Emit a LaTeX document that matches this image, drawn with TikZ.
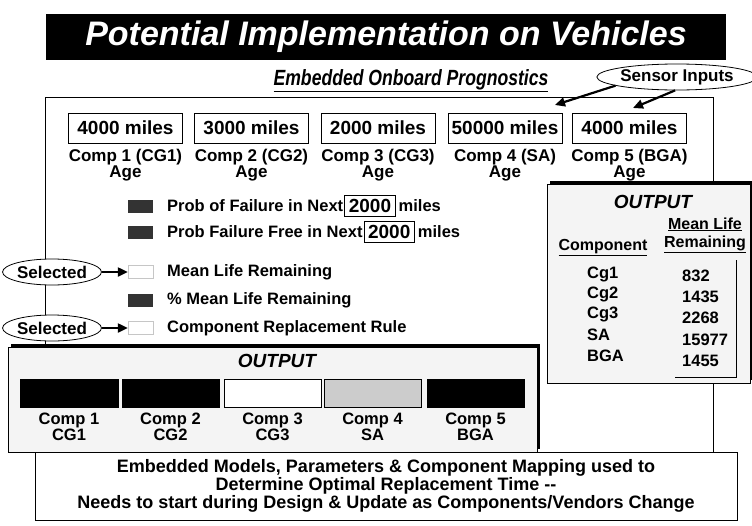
\documentclass[tikz,border=0pt]{standalone}
\usepackage{fontspec}
\setmainfont{Liberation Sans}
\newfontfamily\condfont[FakeStretch=0.8]{Liberation Sans}
\usetikzlibrary{shapes.geometric,arrows.meta,positioning,shadows}

\tikzset{
  agebox/.style={draw,thick,minimum width=114pt,minimum height=30pt,inner sep=0pt,font=\fontsize{19}{20}\selectfont\bfseries},
  agelabel/.style={anchor=north,align=center,inner sep=0pt,font=\fontsize{17}{16}\selectfont\bfseries},
  optlabel/.style={anchor=west,inner sep=0pt,font=\fontsize{16.5}{18}\selectfont\bfseries},
  numbox/.style={draw,thick,inner xsep=4pt,inner ysep=0pt,minimum height=21pt,font=\fontsize{19}{20}\selectfont\bfseries},
  darkicon/.style={fill=black!80,minimum width=25pt,minimum height=13pt,inner sep=0pt},
  lighticon/.style={draw=gray!45,fill=white,minimum width=25pt,minimum height=13pt,inner sep=0pt},
  selbox/.style={ellipse,draw,thick,fill=white,inner sep=0pt,minimum width=95pt,minimum height=26pt,font=\fontsize{17}{17}\selectfont\bfseries},
  outbox/.style={draw,thick,fill=gray!9,drop shadow={shadow xshift=3pt,shadow yshift=3pt,fill=black,opacity=1}},
  outtitle/.style={font=\fontsize{19}{19}\selectfont\bfseries\itshape},
  compbar/.style={draw,thick,minimum height=28pt,inner sep=0pt},
  barlabel/.style={anchor=north,align=center,inner sep=0pt,font=\fontsize{16.5}{16}\selectfont\bfseries},
  cell/.style={anchor=west,inner sep=0pt,font=\fontsize{16.5}{18}\selectfont\bfseries},
  head/.style={inner sep=0pt,font=\fontsize{16}{18}\selectfont\bfseries},
  pointer/.style={-{Triangle[length=10pt,width=9pt]},line width=2.2pt}
}

\begin{document}
\begin{tikzpicture}[x=1pt,y=-1pt]
\useasboundingbox (0,0) rectangle (752,525);

% heading
\node[fill=black,text=white,minimum width=680pt,minimum height=46pt,font=\fontsize{34}{34}\selectfont\bfseries\itshape] (title) at (386,37) {Potential Implementation on Vehicles};
\node[font=\fontsize{22}{22}\selectfont\condfont\bfseries\itshape] (sub) at (411,81) {\underline{Embedded Onboard Prognostics}};
\node[ellipse,draw,thick,fill=white,inner sep=0pt,minimum width=150pt,minimum height=26pt,font=\fontsize{17}{17}\selectfont\bfseries] (sens) at (677,77) {Sensor Inputs};

% output boxes and note
\node[outbox,minimum width=529pt,minimum height=105pt] (outL) at (272.5,399.5) {};
\node[outbox,minimum width=203pt,minimum height=199pt] (outR) at (648.5,283.5) {};
\node[draw,thick,fill=white,minimum width=702pt,minimum height=68pt,align=center,font=\fontsize{18}{15}\selectfont\bfseries] (note) at (386,486) {Embedded Models, Parameters \& Component Mapping used to\\Determine Optimal Replacement Time -{}-\\Needs to start during Design \& Update as Components/Vendors Change};

% frame
\coordinate (ftl) at (45,97);
\coordinate (ftr) at (713,97);
\draw[thick] (ftl |- outL.north) -- (ftl) -- (ftr) -- (ftr |- outR.north);
\draw[thick] (ftr |- outR.south) -- (ftr |- note.north);

% ages
\node[agebox] (a1) at (125.5,128) {4000 miles};
\node[agebox] (a2) at (251.5,128) {3000 miles};
\node[agebox] (a3) at (378,128) {2000 miles};
\node[agebox] (a4) at (505,128) {50000 miles};
\node[agebox] (a5) at (629.5,128) {4000 miles};
\node[agelabel] at ([yshift=-6pt]a1.south) {Comp 1 (CG1)\\Age};
\node[agelabel] at ([yshift=-6pt]a2.south) {Comp 2 (CG2)\\Age};
\node[agelabel] at ([yshift=-6pt]a3.south) {Comp 3 (CG3)\\Age};
\node[agelabel] at ([yshift=-6pt]a4.south) {Comp 4 (SA)\\Age};
\node[agelabel] at ([yshift=-6pt]a5.south) {Comp 5 (BGA)\\Age};
\coordinate (in4) at (555,105);
\coordinate (in5) at (633,108);
\draw[pointer] (sens.188) -- (in4);
\draw[pointer] (sens.262) -- (in5);

% prognostic options
\node[darkicon] (i1) at (140.5,206) {};
\node[darkicon] (i2) at (140.5,232) {};
\node[lighticon] (i3) at (140.5,272) {};
\node[darkicon] (i4) at (140.5,300) {};
\node[lighticon] (i5) at (140.5,328) {};
\node[optlabel] (t1) at (167,206) {Prob of Failure in Next};
\node[numbox,right=1pt of t1] (n1) {2000};
\node[optlabel,right=3pt of n1] {miles};
\node[optlabel] (t2) at (167,232) {Prob Failure Free in Next};
\node[numbox,right=1pt of t2] (n2) {2000};
\node[optlabel,right=3pt of n2] {miles};
\node[optlabel] at (167,272) {Mean Life Remaining};
\node[optlabel] at (167,300) {\% Mean Life Remaining};
\node[optlabel] at (167,328) {Component Replacement Rule};
\node[selbox] (s1) at (52,272) {Selected};
\node[selbox] (s2) at (52,328) {Selected};
\draw[pointer] (s1.east) -- (i3.west);
\draw[pointer] (s2.east) -- (i5.west);

% component output
\node[outtitle] at (277,361) {OUTPUT};
\node[compbar,fill=black,minimum width=98pt] (c1) at (69,393) {};
\node[compbar,fill=black,minimum width=97pt] (c2) at (170.5,393) {};
\node[compbar,fill=white,minimum width=97pt] (c3) at (272.5,393) {};
\node[compbar,fill=gray!40,minimum width=97pt] (c4) at (372.5,393) {};
\node[compbar,fill=black,minimum width=97pt] (c5) at (475.5,393) {};
\foreach \c/\n/\g in {c1/1/CG1,c2/2/CG2,c3/3/CG3,c4/4/SA,c5/5/BGA} {
  \node[barlabel] at ([yshift=-5pt]\c.south) {Comp \n\\\g};
}

% mean life table
\node[outtitle] at (653,202) {OUTPUT};
\node[head,align=center] at (705,235) {\underline{Mean Life}\\\underline{Remaining}};
\node[head] at (603,248) {\underline{Component}};
\node[cell] at (587,274) {Cg1};  \node[cell] at (682,276) {832};
\node[cell] at (587,294) {Cg2};  \node[cell] at (682,297) {1435};
\node[cell] at (587,314) {Cg3};  \node[cell] at (682,318) {2268};
\node[cell] at (587,335) {SA};   \node[cell] at (682,340) {15977};
\node[cell] at (587,356) {BGA};  \node[cell] at (682,361) {1455};
\draw[thick] (736,260) -- (736,377) -- (675,377);
\end{tikzpicture}
\end{document}
